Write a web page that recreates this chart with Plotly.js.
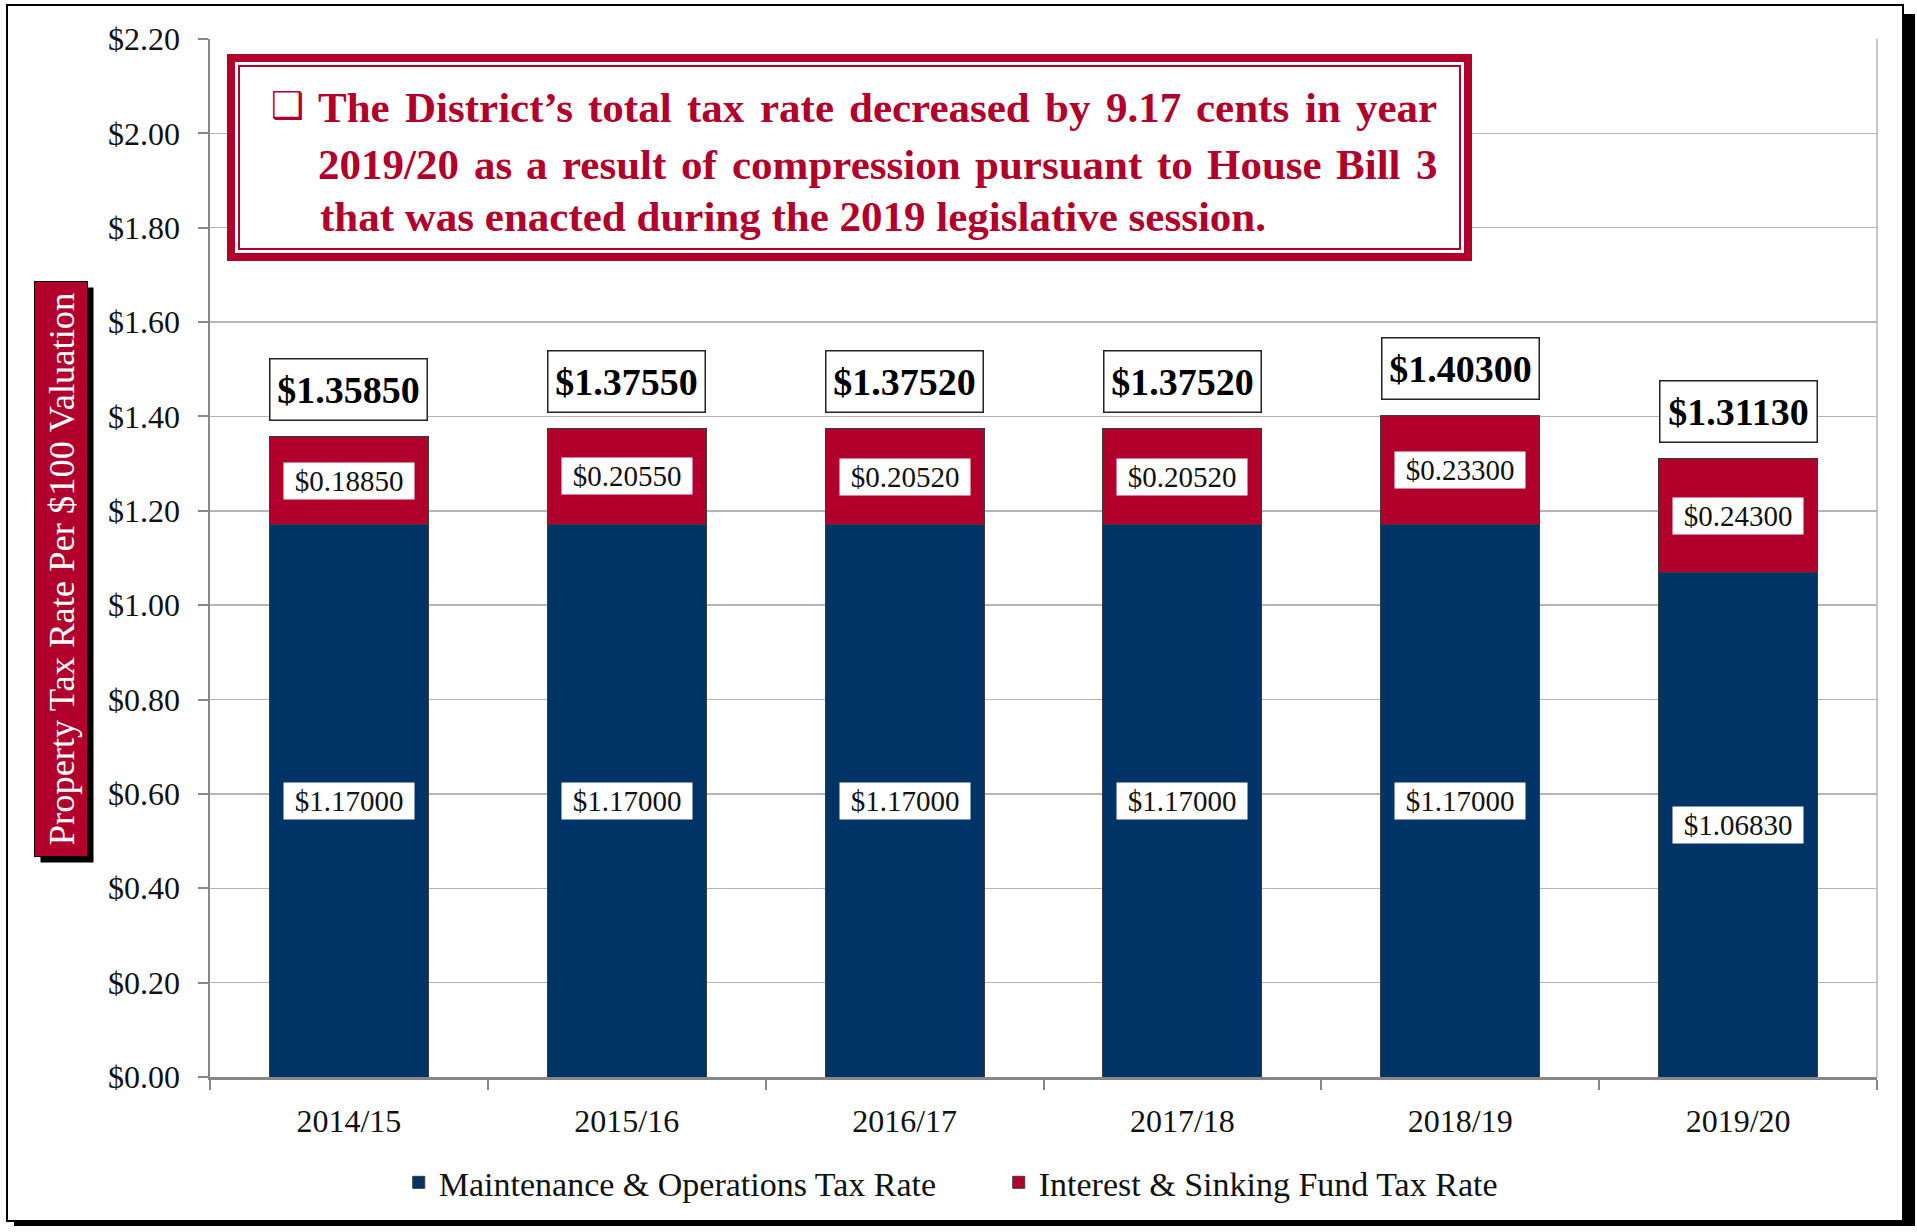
<!DOCTYPE html>
<html>
<head>
<meta charset="utf-8">
<script src="https://cdn.plot.ly/plotly-3.0.1.min.js"></script>
<style>html,body{margin:0;padding:0;background:#fff;}#chart{width:1917px;height:1232px;}</style>
</head>
<body>
<div id="chart"></div>
<script>
// ---- data ----
var years = ['2014/15', '2015/16', '2016/17', '2017/18', '2018/19', '2019/20'];
var moRate = [1.17000, 1.17000, 1.17000, 1.17000, 1.17000, 1.06830];
var isRate = [0.18850, 0.20550, 0.20520, 0.20520, 0.23300, 0.24300];
var totalRate = [1.35850, 1.37550, 1.37520, 1.37520, 1.40300, 1.31130];
var seriesNames = ['Maintenance & Operations Tax Rate', 'Interest & Sinking Fund Tax Rate'];
var yTitle = 'Property Tax Rate Per $100 Valuation';
var noteLines = [
  'The District\u2019s total tax rate decreased by 9.17 cents in year',
  '2019/20 as a result of compression pursuant to House Bill 3',
  'that was enacted during the 2019 legislative session.'
];

// ---- style ----
var NAVY = '#003366', RED = '#B1002B';
var SERIF = 'Liberation Serif, Times New Roman, serif';
var W = 1917, H = 1232, L = 210, R = 40, T = 39, B = 155;
var PW = W - L - R, PH = H - T - B;
function px(x) { return (x - L) / PW; }
function py(y) { return (H - B - y) / PH; }
function fmt(v) { return '$' + v.toFixed(5); }

var traces = [
  { type: 'bar', name: seriesNames[0], x: years, y: moRate,
    marker: { color: NAVY, line: { color: '#3a3a3a', width: 1 } }, hoverinfo: 'skip' },
  { type: 'bar', name: seriesNames[1], x: years, y: isRate,
    marker: { color: RED, line: { color: '#3a3a3a', width: 1 } }, hoverinfo: 'skip' }
];

var ann = [];
// segment labels
years.forEach(function (yr, i) {
  ann.push({ x: yr, y: moRate[i] / 2, xref: 'x', yref: 'y', text: fmt(moRate[i]), showarrow: false,
    font: { family: SERIF, size: 29, color: '#111' }, bgcolor: '#fff', width: 126, height: 32, borderpad: 2 });
  ann.push({ x: yr, y: moRate[i] + isRate[i] / 2, xref: 'x', yref: 'y', text: fmt(isRate[i]), showarrow: false,
    font: { family: SERIF, size: 29, color: '#111' }, bgcolor: '#fff', width: 126, height: 32, borderpad: 2 });
  ann.push({ x: yr, y: totalRate[i], xref: 'x', yref: 'y', text: '<b>' + fmt(totalRate[i]) + '</b>', showarrow: false,
    yanchor: 'bottom', yshift: 15,
    font: { family: SERIF, size: 38, color: '#000' }, bgcolor: '#fff', bordercolor: '#222', borderwidth: 1.5,
    width: 148, height: 52, borderpad: 4 });
});

// y-axis title in red box with shadow
ann.push({ xref: 'paper', yref: 'paper', x: px(61), y: py(569), xanchor: 'center', yanchor: 'middle', xshift: 6, yshift: -6,
  text: yTitle, textangle: -90, showarrow: false, font: { family: SERIF, size: 36.5, color: '#000' },
  bgcolor: '#000', width: 574, height: 52, borderpad: 0 });
ann.push({ xref: 'paper', yref: 'paper', x: px(61), y: py(569), xanchor: 'center', yanchor: 'middle',
  text: yTitle, textangle: -90, showarrow: false, font: { family: SERIF, size: 36.5, color: '#fff' },
  bgcolor: RED, bordercolor: '#000', borderwidth: 1, width: 574, height: 52, borderpad: 0 });

// note text (first two lines justified, last line left)
ann.push({ xref: 'paper', yref: 'paper', x: px(269), y: py(105), xanchor: 'left', yanchor: 'middle', text: '\u2751',
  showarrow: false, font: { family: 'DejaVu Sans', size: 37, color: RED } });
var NOTE_SIZE = 43, NOTE_X0 = 318, NOTE_X1 = 1437;
var lineY = [107, 164, 216];
var cv = document.createElement('canvas').getContext('2d');
cv.font = 'bold ' + NOTE_SIZE + 'px "Liberation Serif"';
noteLines.forEach(function (t, i) {
  var font = { family: SERIF, size: NOTE_SIZE, color: RED };
  if (i === noteLines.length - 1) {
    ann.push({ xref: 'paper', yref: 'paper', x: px(NOTE_X0), y: py(lineY[i]), xanchor: 'left', yanchor: 'middle',
      text: '<b>' + t + '</b>', showarrow: false, font: font });
    return;
  }
  var words = t.split(' ');
  var widths = words.map(function (w) { return cv.measureText(w).width; });
  var sum = widths.reduce(function (a, b) { return a + b; }, 0);
  var gap = (NOTE_X1 - NOTE_X0 - sum) / (words.length - 1);
  var cx = NOTE_X0;
  words.forEach(function (w, j) {
    ann.push({ xref: 'paper', yref: 'paper', x: px(cx), y: py(lineY[i]), xanchor: 'left', yanchor: 'middle',
      text: '<b>' + w + '</b>', showarrow: false, font: font, borderpad: 0, borderwidth: 0 });
    cx += widths[j] + gap;
  });
});

var shapes = [
  // right border of plot area
  { type: 'line', xref: 'paper', yref: 'paper', x0: 1, x1: 1, y0: 0, y1: 1, line: { color: '#b4b4b4', width: 1.5 } },
  // note box
  { type: 'rect', xref: 'paper', yref: 'paper', layer: 'above', x0: px(231), x1: px(1468), y0: py(58), y1: py(257),
    fillcolor: '#fff', line: { color: RED, width: 8 } },
  { type: 'rect', xref: 'paper', yref: 'paper', layer: 'above', x0: px(239), x1: px(1460), y0: py(66), y1: py(249),
    fillcolor: 'rgba(0,0,0,0)', line: { color: RED, width: 2 } },
  // outer frame and shadow
  { type: 'rect', xref: 'paper', yref: 'paper', layer: 'above', x0: px(7), x1: px(1903), y0: py(5), y1: py(1221),
    fillcolor: 'rgba(0,0,0,0)', line: { color: '#000', width: 2 } },
  { type: 'rect', xref: 'paper', yref: 'paper', layer: 'above', x0: px(1904), x1: px(1915), y0: py(14), y1: py(1226),
    fillcolor: '#000', line: { width: 0 } },
  { type: 'rect', xref: 'paper', yref: 'paper', layer: 'above', x0: px(14), x1: px(1915), y0: py(1222), y1: py(1226),
    fillcolor: '#000', line: { width: 0 } }
];

var layout = {
  width: W, height: H,
  margin: { l: L, r: R, t: T, b: B, pad: 0 },
  paper_bgcolor: '#fff', plot_bgcolor: 'rgba(0,0,0,0)',
  barmode: 'stack', bargap: 0.428,
  showlegend: true,
  legend: { orientation: 'h', xref: 'container', yref: 'container', x: 0.208, xanchor: 'left', y: 0.04, yanchor: 'middle',
    font: { family: SERIF, size: 34, color: '#111' }, traceorder: 'normal', entrywidth: 555 },
  xaxis: { type: 'category', showline: true, linecolor: '#878787', linewidth: 2.5,
    ticks: 'outside', tickson: 'boundaries', ticklen: 10, tickwidth: 2, tickcolor: '#878787',
    showgrid: false, tickfont: { family: SERIF, size: 32, color: '#111' }, ticklabelstandoff: 14, fixedrange: true },
  yaxis: { range: [0, 2.2], dtick: 0.2, tick0: 0, tickformat: '$.2f', showline: true, linecolor: '#878787', linewidth: 2.5,
    ticks: 'outside', ticklen: 10, tickwidth: 2, tickcolor: '#878787',
    showgrid: true, gridcolor: '#b4b4b4', gridwidth: 1.5, zeroline: false,
    tickfont: { family: SERIF, size: 32, color: '#111' }, ticklabelstandoff: 11, fixedrange: true },
  annotations: ann,
  shapes: shapes
};

Plotly.newPlot('chart', traces, layout, { displayModeBar: false, staticPlot: true });
</script>
</body>
</html>
